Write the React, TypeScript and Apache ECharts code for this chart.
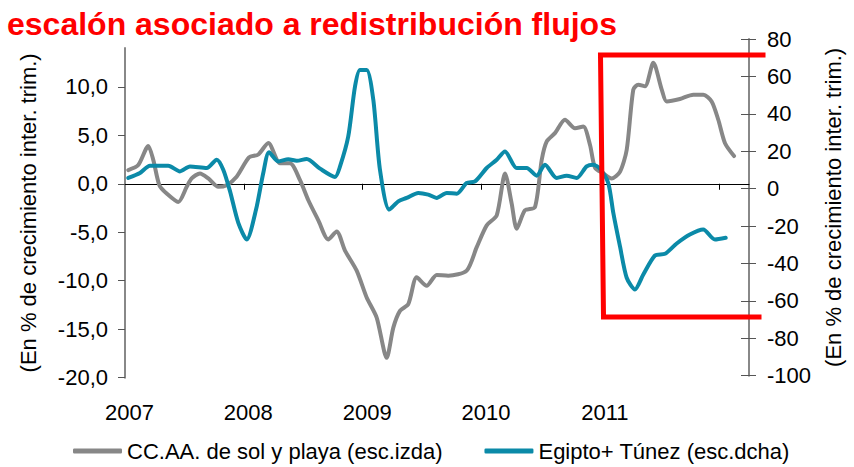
import React, { useEffect, useRef } from "react";
import * as echarts from "echarts";

const titleText = "escalón asociado a redistribución flujos";
const yAxisName = "(En % de crecimiento inter. trim.)";
const seriesNames = ["CC.AA. de sol y playa (esc.izda)", "Egipto+ Túnez (esc.dcha)"];
const firstYear = 2007;
const yearTickMonths = [0, 12, 24, 36, 48];
const monthTicks = [12, 24, 36, 48, 60];
const leftTicks = [-20, -15, -10, -5, 0, 5, 10];

// months elapsed since January 2007
const solPlayaMes = [0.33, 1.34, 2.35, 2.86, 3.47, 4.21, 5.38, 6.23, 6.73, 7.57, 8.41, 9.42, 10.26, 11.27, 12.52, 13.46, 14.47, 15.65, 16.66, 17.67, 18.51, 19.52, 20.52, 21.37, 22.21, 23.39, 24.4, 25.41, 26.42, 27.09, 27.76, 28.6, 29.45, 30.46, 31.47, 32.64, 34.5, 35.51, 36.52, 37.53, 38.37, 39.04, 39.55, 40.38, 41.39, 42.07, 42.57, 43.41, 44.42, 45.43, 46.27, 46.95, 47.45, 48.29, 49.14, 49.97, 50.65, 51.32, 51.82, 52.5, 53.34, 54.19, 54.69, 56.03, 57.38, 58.39, 59.23, 59.9, 60.58, 61.49];
const solPlayaVal = [1.41, 1.93, 3.9, 2.44, -0.15, -1.01, -1.88, -0.32, 0.55, 1.07, 0.55, -0.32, -0.15, 0.72, 2.71, 3.02, 4.21, 2.11, 2.11, 0.37, -1.7, -3.77, -5.75, -4.92, -6.89, -8.96, -11.73, -13.8, -17.95, -14.84, -13.11, -12.41, -9.65, -10.52, -9.41, -9.48, -8.96, -6.54, -4.29, -3.26, 1.07, -2.04, -4.64, -2.74, -2.4, 2.45, 4.35, 5.22, 6.6, 5.73, 5.9, 4.0, 1.67, 1.07, 0.55, 1.23, 3.48, 9.71, 10.22, 10.05, 12.48, 9.71, 8.49, 8.74, 9.19, 9.19, 8.49, 6.6, 4.18, 2.86];

const egiptoMes = [0.33, 1.51, 2.52, 4.37, 5.55, 6.56, 8.25, 9.26, 9.92, 10.6, 11.44, 12.29, 13.23, 13.96, 14.54, 15.48, 16.49, 17.34, 18.34, 19.69, 21.2, 21.71, 22.54, 23.22, 23.72, 24.4, 25.07, 25.74, 26.68, 27.59, 28.44, 29.61, 30.62, 31.47, 32.48, 33.49, 34.5, 35.34, 36.52, 37.53, 38.36, 39.55, 40.56, 41.56, 42.4, 43.58, 44.59, 45.6, 46.61, 47.28, 47.95, 48.79, 49.3, 49.97, 50.65, 51.49, 52.33, 53.51, 54.52, 55.7, 57.03, 58.38, 59.56, 60.65];
const egiptoVal = [5.71, 8.37, 12.27, 12.27, 9.23, 11.89, 11.04, 15.47, 10.13, -1.33, -18.29, -27.2, -11.2, 8.37, 19.47, 14.56, 15.73, 14.93, 15.84, 10.67, 6.24, 11.89, 27.89, 54.56, 63.47, 63.47, 47.47, 10.13, -11.2, -6.77, -4.96, -2.29, -3.2, -4.96, -2.29, -2.67, 3.04, 3.89, 11.04, 15.47, 19.89, 11.04, 11.04, 6.93, 12.8, 5.71, 6.93, 5.71, 11.89, 12.8, 10.67, 3.04, -12.96, -30.77, -47.63, -53.87, -45.87, -35.73, -34.83, -29.33, -24.53, -21.87, -27.2, -26.29];

const FONT = "'Liberation Sans', Arial, sans-serif";
const GRAY = "#878787";
const TEAL = "#0b8aa8";

export default function App() {
  const ref = useRef<HTMLDivElement>(null);
  useEffect(() => {
    if (!ref.current) return;
    const chart = echarts.init(ref.current, null, { renderer: "svg" });
    const option: any = {
      animation: false,
      backgroundColor: "#ffffff",
      textStyle: { fontFamily: FONT },
      grid: [
        { left: 125, top: 48, width: 624, height: 329.7, containLabel: false, outerBoundsMode: "none" },
        { left: 125, top: 39, width: 624, height: 336.7, containLabel: false, outerBoundsMode: "none" },
      ],
      legend: {
        left: 73,
        top: 440,
        padding: 0,
        itemWidth: 49,
        itemHeight: 5,
        itemGap: 42,
        icon: "roundRect",
        textStyle: { fontSize: 22, color: "#000", fontFamily: FONT },
        data: seriesNames,
      },
      xAxis: [
        {
          gridIndex: 0,
          type: "value",
          min: 0,
          max: 63,
          position: "bottom",
          axisLine: { show: true, onZero: true, lineStyle: { color: "#000", width: 1 } },
          axisTick: { show: true, customValues: monthTicks, length: 6, lineStyle: { color: "#000", width: 1 } },
          axisLabel: { show: false },
          splitLine: { show: false },
        },
        {
          gridIndex: 0,
          type: "value",
          min: -0.45,
          max: 62.55,
          position: "bottom",
          axisLine: { show: false, onZero: false },
          axisTick: { show: false },
          axisLabel: {
            show: true,
            customValues: yearTickMonths,
            formatter: (v: number) => String(firstYear + Math.round(v / 12)),
            margin: 24,
            fontSize: 22,
            color: "#000",
            fontFamily: FONT,
          },
          splitLine: { show: false },
        },
        { gridIndex: 1, type: "value", min: 0, max: 63, show: false },
      ],
      yAxis: [
        {
          gridIndex: 0,
          type: "value",
          min: -20,
          max: 14,
          position: "left",
          axisLine: { show: true, onZero: false, lineStyle: { color: "#888", width: 2 } },
          axisTick: { show: true, customValues: leftTicks, length: 7, lineStyle: { color: "#555", width: 1 } },
          axisLabel: {
            customValues: leftTicks,
            formatter: (v: number) => v.toFixed(1).replace(".", ","),
            margin: 17,
            fontSize: 22,
            color: "#000",
            fontFamily: FONT,
          },
          splitLine: { show: false },
          name: yAxisName,
          nameLocation: "middle",
          nameGap: 86,
          nameTextStyle: { fontSize: 22, color: "#000", fontFamily: FONT },
        },
        {
          gridIndex: 1,
          type: "value",
          min: -100,
          max: 80,
          interval: 20,
          position: "right",
          axisLine: { show: true, onZero: false, lineStyle: { color: "#888", width: 2 } },
          axisTick: { show: true, length: 7, lineStyle: { color: "#555", width: 1 } },
          axisLabel: { margin: 18, fontSize: 22, color: "#000", fontFamily: FONT },
          splitLine: { show: false },
          name: yAxisName,
          nameLocation: "middle",
          nameGap: 73,
          nameTextStyle: { fontSize: 22, color: "#000", fontFamily: FONT },
        },
        {
          gridIndex: 1,
          type: "value",
          min: -100,
          max: 80,
          interval: 20,
          position: "right",
          axisLine: { show: false, onZero: false },
          axisTick: { show: true, inside: true, length: 8, lineStyle: { color: "#555", width: 1 } },
          axisLabel: { show: false },
          splitLine: { show: false },
        },
      ],
      series: [
        {
          name: seriesNames[0],
          type: "line",
          xAxisIndex: 0,
          yAxisIndex: 0,
          data: solPlayaMes.map((m, i) => [m, solPlayaVal[i]]),
          showSymbol: false,
          symbol: "none",
          smooth: 0.25,
          color: GRAY,
          lineStyle: { color: GRAY, width: 4, cap: "round", join: "round" },
        },
        {
          name: seriesNames[1],
          type: "line",
          xAxisIndex: 2,
          yAxisIndex: 1,
          data: egiptoMes.map((m, i) => [m, egiptoVal[i]]),
          showSymbol: false,
          symbol: "none",
          smooth: 0.25,
          color: TEAL,
          lineStyle: { color: TEAL, width: 4, cap: "round", join: "round" },
        },
      ],
      graphic: [
        {
          type: "text",
          x: 7,
          y: 24,
          style: {
            text: titleText,
            fontSize: 32,
            fontWeight: "bold",
            fill: "#ff0000",
            fontFamily: FONT,
            verticalAlign: "middle",
          },
        },
        {
          type: "polyline",
          z: 100,
          shape: { points: [[765.5, 55], [600.5, 55], [603.5, 317], [761.5, 317]] },
          style: { stroke: "#ff0000", lineWidth: 5, fill: null, lineJoin: "miter" },
        },
      ],
    };
    chart.setOption(option);
    return () => chart.dispose();
  }, []);
  return (
    <div
      ref={ref}
      style={{ position: "absolute", left: 0, top: 0, width: 854, height: 467, background: "#fff" }}
    />
  );
}
